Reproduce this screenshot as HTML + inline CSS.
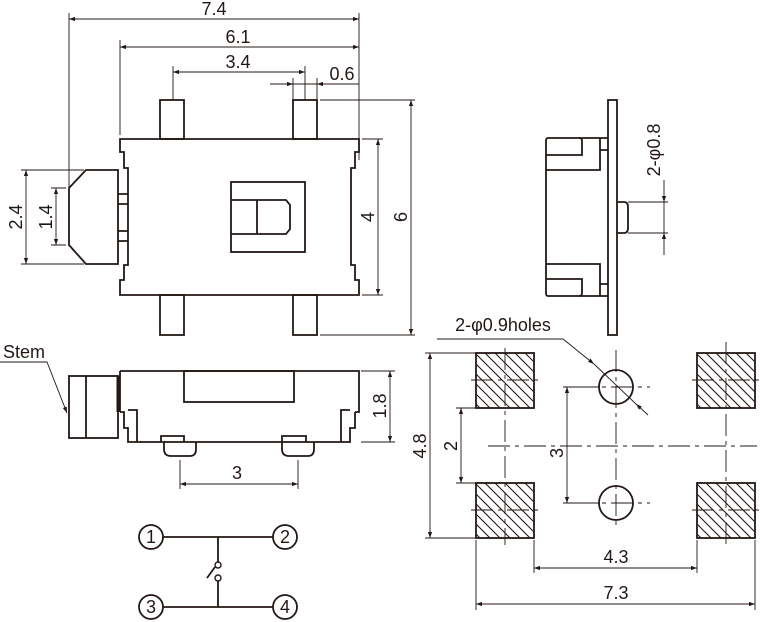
<!DOCTYPE html>
<html><head><meta charset="utf-8"><style>
html,body{margin:0;padding:0;background:#fff}
svg{display:block}
text{font-family:"Liberation Sans",Arial,sans-serif;fill:#231815}
</style></head><body>
<svg width="760" height="622" viewBox="0 0 760 622" xmlns="http://www.w3.org/2000/svg">
<defs>
<marker id="a" viewBox="0 0 10 10" refX="10" refY="5" markerWidth="14" markerHeight="6" markerUnits="userSpaceOnUse" orient="auto-start-reverse"><path d="M0,1.5 L10,5 L0,8.5z" fill="#231815"/></marker>
<clipPath id="c"><rect x="0" y="0" width="58" height="55"/></clipPath>
<g id="pad">
<g clip-path="url(#c)" stroke="#231815" stroke-width="1.1" fill="none">
<path d="M-51,0 l55,55 M-41,0 l55,55 M-31,0 l55,55 M-21,0 l55,55 M-11,0 l55,55 M-1,0 l55,55 M9,0 l55,55 M19,0 l55,55 M29,0 l55,55 M39,0 l55,55 M49,0 l55,55"/>
</g>
<rect x="0" y="0" width="58" height="55" fill="none" stroke="#231815" stroke-width="1.8"/>
</g>
</defs>
<use href="#pad" x="476" y="353"/>
<use href="#pad" x="476" y="483"/>
<use href="#pad" x="697" y="353"/>
<use href="#pad" x="697" y="483"/>
<g fill="none" stroke="#231815" stroke-width="1.8">
<path d="M120,139 H359 V152 H355 V168 H351 V265 H355 V280 H359 V295 H120 V280 H124 V265 H128 V168 H124 V152 H120Z"/>
<rect x="160" y="100" width="24" height="39"/><rect x="293" y="100" width="24" height="39"/>
<rect x="160" y="295" width="24" height="40"/><rect x="293" y="295" width="24" height="40"/>
<path d="M118,170 H86 L69,188 V245 L86,264 H118Z"/>
<path d="M118,194 H128 M118,204 H128 M118,231 H128 M118,241 H128"/>
<rect x="231" y="182" width="74" height="70"/>
<path d="M231,200 H286 L290,205 V229 L286,234 H231 M257,200 V234"/>
<path d="M120,371 H359 V412 H355 M120,371 V412"/>
<rect x="184" y="371" width="110" height="31"/>
<rect x="69" y="376" width="49" height="62"/><path d="M86,376 V438"/>
<path d="M118,376 V412" stroke-width="3"/>
<path d="M120,412 H124 V428 H128 V442 H350 V428 H355 V412"/>
<path d="M128,410 H137 V442 M341,442 V410 H350"/>
<path d="M161,442 V436 H184 V442 M282,442 V436 H306 V442"/>
<path d="M164,442 V449 Q164,456 171,456 H190 Q196,456 196,449 V442"/>
<path d="M282,442 V449 Q282,456 289,456 H308 Q314,456 314,449 V442"/>
<rect x="608" y="100" width="9" height="235"/>
<path d="M608,138 H548 Q546,138 546,141 V293 Q546,296 548,296 H608"/>
<path d="M546,155 H582 V141 Q582,138 579,138 M546,170 H600 V138 M600,150 H608"/>
<path d="M546,279 H582 V293 Q582,296 579,296 M546,264 H600 V296 M600,284 H608"/>
<path d="M617,202 H624 Q628,202 628,207 V228 Q628,233 624,233 H617"/>
<circle cx="151" cy="537" r="12"/><circle cx="285" cy="537" r="12"/>
<circle cx="151" cy="607" r="12"/><circle cx="285" cy="607" r="12"/>
<path d="M163,537 H273 M163,607 H273 M218,537 V562 M218,581 V607 M207,578 L215,567"/>
<circle cx="218" cy="565" r="3" stroke-width="1.4"/><circle cx="218" cy="578" r="3" stroke-width="1.4"/>
<circle cx="616" cy="387" r="17"/><circle cx="616" cy="503" r="17"/>
</g>
<g fill="none" stroke="#231815" stroke-width="0.9">
<g stroke-dasharray="22,5,4,5">
<path d="M488,446 H757 M616,350 V530 M505,348 V545 M726,342 V545 M471,380 H540 M471,510 H540 M692,380 H760 M692,510 H760 M575,387 H650 M575,503 H650"/>
</g>
<path d="M69,13 V188 M120,40 V135 M359,13 V160 M173,66 V100 M293,78 V100 M305,66 V100 M317,78 V100"/>
<path d="M69,19 H359" marker-start="url(#a)" marker-end="url(#a)"/>
<path d="M120,47 H359" marker-start="url(#a)" marker-end="url(#a)"/>
<path d="M173,72 H305" marker-start="url(#a)" marker-end="url(#a)"/>
<path d="M270,84 H293" marker-end="url(#a)"/><path d="M359,84 H317" marker-end="url(#a)"/><path d="M293,84 H317"/>
<path d="M362,139 H383 M362,295 H383 M320,100 H415 M320,335 H415"/>
<path d="M378,139 V295" marker-start="url(#a)" marker-end="url(#a)"/>
<path d="M411,100 V335" marker-start="url(#a)" marker-end="url(#a)"/>
<path d="M21,170 H84 M21,264 H84 M51,188 H66 M51,245 H66"/>
<path d="M26,170 V264" marker-start="url(#a)" marker-end="url(#a)"/>
<path d="M56,188 V245" marker-start="url(#a)" marker-end="url(#a)"/>
<path d="M361,371 H395 M361,442 H395"/>
<path d="M390,371 V442" marker-start="url(#a)" marker-end="url(#a)"/>
<path d="M180,460 V489 M298,460 V489"/>
<path d="M180,484 H298" marker-start="url(#a)" marker-end="url(#a)"/>
<path d="M0,362 H47 L67,413" marker-end="url(#a)"/>
<path d="M628,202 H668 M628,233 H668"/>
<path d="M664,180 V202" marker-end="url(#a)"/><path d="M664,255 V233" marker-end="url(#a)"/><path d="M664,202 V233"/>
<path d="M425,353 H476 M425,538 H476 M456,408 H476 M456,483 H476 M563,387 H600 M563,503 H600"/>
<path d="M430,353 V538" marker-start="url(#a)" marker-end="url(#a)"/>
<path d="M461,408 V483" marker-start="url(#a)" marker-end="url(#a)"/>
<path d="M567,387 V503" marker-start="url(#a)" marker-end="url(#a)"/>
<path d="M476,540 V610 M534,540 V573 M697,540 V573 M755,540 V610"/>
<path d="M534,568 H697" marker-start="url(#a)" marker-end="url(#a)"/>
<path d="M476,604 H755" marker-start="url(#a)" marker-end="url(#a)"/>
<path d="M437,339 H563 L594,364" marker-end="url(#a)"/>
<path d="M648,415 L636,404" marker-end="url(#a)"/><path d="M594,364 L636,404"/>
</g>
<g font-size="18" text-anchor="middle">
<text x="214" y="15">7.4</text>
<text x="238" y="43">6.1</text>
<text x="238" y="68">3.4</text>
<text x="342" y="80">0.6</text>
<text x="0" y="0" transform="translate(374,217) rotate(-90)">4</text>
<text x="0" y="0" transform="translate(407,217) rotate(-90)">6</text>
<text x="0" y="0" transform="translate(22,217) rotate(-90)">2.4</text>
<text x="0" y="0" transform="translate(52,217) rotate(-90)">1.4</text>
<text x="0" y="0" transform="translate(386,406) rotate(-90)">1.8</text>
<text x="237" y="479">3</text>
<text x="24" y="358">Stem</text>
<text x="0" y="0" transform="translate(660,150) rotate(-90)">2-φ0.8</text>
<text x="503" y="331">2-φ0.9holes</text>
<text x="0" y="0" transform="translate(426,446) rotate(-90)">4.8</text>
<text x="0" y="0" transform="translate(457,446) rotate(-90)">2</text>
<text x="0" y="0" transform="translate(563,453) rotate(-90)">3</text>
<text x="616" y="563">4.3</text>
<text x="616" y="599">7.3</text>
<text x="151" y="543">1</text><text x="285" y="543">2</text>
<text x="151" y="613">3</text><text x="285" y="613">4</text>
</g>
</svg>
</body></html>
